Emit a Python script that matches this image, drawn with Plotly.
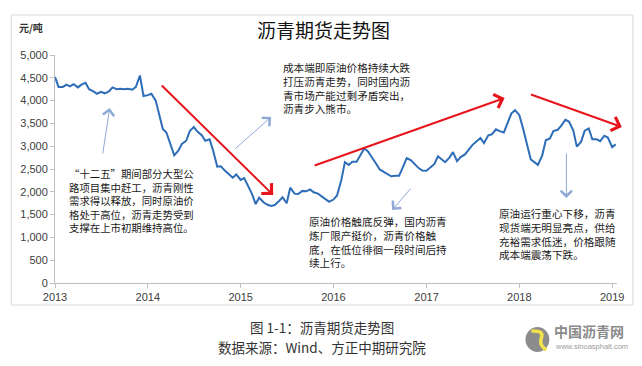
import pandas as pd
import plotly.graph_objects as go

# ---------------- data (semi-monthly readings, 元/吨) ----------------
start_date = "2013-01-01"
price = [
    4520, 4300, 4300, 4350, 4310, 4360, 4290, 4350, 4390, 4250,
    4200, 4150, 4190, 4160, 4200, 4290, 4250, 4260, 4250, 4260,
    4240, 4300, 4550, 4100, 4120, 4150, 4000, 3700, 3380, 3300,
    3000, 2800, 2900, 3050, 3120, 3330, 3420, 3320, 3240, 3120,
    3150, 2900, 2550, 2560, 2460, 2390, 2310, 2380, 2260, 2300,
    2120, 1950, 1730, 1870, 1770, 1720, 1690, 1710, 1800, 1880,
    1750, 2090, 1960, 1950, 2020, 2010, 2050, 1990, 1960, 1900,
    1840, 1780, 1830, 1920, 2260, 2650, 2590, 2660, 2660, 2800,
    2950, 2890, 2760, 2630, 2490, 2440, 2390, 2340, 2350, 2350,
    2550, 2740, 2690, 2610, 2520, 2465, 2460, 2530, 2610, 2780,
    2720, 2650, 2750, 2870, 2670, 2760, 2820, 2920, 3030, 3100,
    3180, 3070, 3240, 3260, 3370, 3330, 3300, 3500, 3720, 3790,
    3680, 3400, 2990, 2710, 2650, 2590, 2800, 3130, 3170, 3330,
    3360, 3450, 3580, 3540, 3350, 2990, 3100, 3340, 3390, 3150,
    3150, 3110, 3230, 3190, 2980, 3040,
]
dates = pd.date_range(start_date, periods=len(price), freq="SMS")

x_tick_vals = ["2013-01-01", "2014-01-01", "2015-01-01", "2016-01-01",
               "2017-01-01", "2018-01-01", "2019-01-01"]
x_tick_text = ["2013", "2014", "2015", "2016", "2017", "2018", "2019"]
y_tick_vals = [0, 500, 1000, 1500, 2000, 2500, 3000, 3500, 4000, 4500, 5000]

# trend arrows (tail date, tail value, head date, head value)
red_tail_x = ["2014-02-19", "2015-10-13", "2018-02-10"]
red_tail_y = [4364, 2566, 4145]
red_head_x = ["2015-05-09", "2017-11-04", "2019-02-08"]
red_head_y = [1930, 4057, 3421]

# pointer arrows
blue_tail_x = ["2013-07-07", "2014-12-05", "2016-11-05", "2018-07-05"]
blue_tail_y = [2807, 2917, 2105, 2873]
blue_head_x = ["2013-08-04", "2015-05-01", "2016-08-19", "2018-07-05"]
blue_head_y = [3838, 3640, 1601, 1864]

title_text = "沥青期货走势图"
unit_text = "元/吨"
note_top = "成本端即原油价格持续大跌<br>打压沥青走势，同时国内沥<br>青市场产能过剩矛盾突出，<br>沥青步入熊市。"
note_left = "“十二五”期间部分大型公<br>路项目集中赶工，沥青刚性<br>需求得以释放，同时原油价<br>格处于高位，沥青走势受到<br>支撑在上市初期维持高位。"
note_mid = "原油价格触底反弹，国内沥青<br>炼厂限产挺价，沥青价格触<br>底，在低位徘徊一段时间后持<br>续上行。"
note_right = "原油运行重心下移，沥青<br>现货端无明显亮点，供给<br>充裕需求低迷，价格跟随<br>成本端震荡下跌。"
caption1 = "图 1-1：沥青期货走势图"
caption2 = "数据来源：Wind、方正中期研究院"

# ---------------- layout helpers ----------------
# page has an 8px body margin, so the figure is drawn 8px right/down;
# positions below are given in screen pixels and converted.
OFF = 8
W, H = 642 - OFF, 366 - OFF
L, R, T, B = 52, 617, 55, 283   # plot area in screen pixels


def fx(px):
    return (px - L) / (R - L)


def fy(py):
    return (B - py) / (B - T)


CJK = "Noto Sans CJK SC"
LAT = "Liberation Sans"

fig = go.Figure()
fig.add_trace(go.Scatter(
    x=dates, y=price, mode="lines",
    line=dict(color="#2E6DB8", width=2),
    hoverinfo="skip", showlegend=False,
))

annotations = []
annotations.append(dict(text=title_text, x=fx(322), y=fy(29), xref="paper", yref="paper",
                        showarrow=False, xanchor="center", yanchor="middle",
                        font=dict(family=CJK, size=19, color="#111111")))
annotations.append(dict(text="<b>" + unit_text + "</b>", x=fx(14), y=fy(28), xref="paper", yref="paper",
                        showarrow=False, xanchor="left", yanchor="middle",
                        font=dict(family=CJK, size=10, color="#333333")))

for txt, xl, yt, fs in [(note_top, 279, 58, 10.6), (note_left, 64, 164, 10.4),
                        (note_mid, 305, 212, 10.6), (note_right, 496, 204, 10.6)]:
    annotations.append(dict(text=txt, x=fx(xl), y=fy(yt), xref="paper", yref="paper",
                            showarrow=False, xanchor="left", yanchor="top", align="left",
                            font=dict(family=CJK, size=fs, color="#1a1a1a")))

annotations.append(dict(text=caption1, x=fx(320), y=fy(327), xref="paper", yref="paper",
                        showarrow=False, xanchor="center", yanchor="middle",
                        font=dict(family=CJK, size=13.5, color="#333333")))
annotations.append(dict(text=caption2, x=fx(320), y=fy(347), xref="paper", yref="paper",
                        showarrow=False, xanchor="center", yanchor="middle",
                        font=dict(family=CJK, size=13.5, color="#333333")))

# watermark text
annotations.append(dict(text="<b>中国沥青网</b>", x=fx(552), y=fy(331), xref="paper", yref="paper",
                        showarrow=False, xanchor="left", yanchor="middle",
                        font=dict(family=CJK, size=14, color="#8a8a8a")))
annotations.append(dict(text="www.sinoasphalt.com", x=fx(553), y=fy(346), xref="paper", yref="paper",
                        showarrow=False, xanchor="left", yanchor="middle",
                        font=dict(family=LAT, size=7.5, color="#9a9a9a")))

# red trend arrows
for tx, ty, hx, hy in zip(red_tail_x, red_tail_y, red_head_x, red_head_y):
    annotations.append(dict(x=hx, y=hy, ax=tx, ay=ty, xref="x", yref="y", axref="x", ayref="y",
                            text="", showarrow=True, arrowhead=4, arrowsize=1.4,
                            arrowwidth=2, arrowcolor="#E8141C", standoff=0))
# blue pointer arrows
for tx, ty, hx, hy in zip(blue_tail_x, blue_tail_y, blue_head_x, blue_head_y):
    annotations.append(dict(x=hx, y=hy, ax=tx, ay=ty, xref="x", yref="y", axref="x", ayref="y",
                            text="", showarrow=True, arrowhead=4, arrowsize=2.2,
                            arrowwidth=1, arrowcolor="#8EA9D6", standoff=0))

shapes = [
    dict(type="rect", xref="paper", yref="paper", x0=fx(8), x1=fx(633), y0=fy(305), y1=fy(15),
         line=dict(color="#d9d9d9", width=1), fillcolor="rgba(0,0,0,0)", layer="below"),
    dict(type="circle", xref="paper", yref="paper", x0=fx(525), x1=fx(549), y0=fy(352), y1=fy(327),
         line=dict(color="#8c8c8c", width=0), fillcolor="#8c8c8c"),
    dict(type="path", xref="paper", yref="paper",
         path=(f"M {fx(531)},{fy(331)} Q {fx(544)},{fy(330)} {fx(541)},{fy(338)} "
               f"Q {fx(538)},{fy(345)} {fx(546)},{fy(350)}"),
         line=dict(color="#F2E24A", width=3.5)),
]

fig.update_layout(
    width=W, height=H, autosize=False,
    margin=dict(l=L - OFF, r=(W + OFF) - R, t=T - OFF, b=(H + OFF) - B, pad=0),
    paper_bgcolor="white", plot_bgcolor="white",
    showlegend=False,
    annotations=annotations, shapes=shapes,
    xaxis=dict(type="date", range=["2013-01-01", "2019-01-20"],
               tickvals=x_tick_vals, ticktext=x_tick_text,
               showline=True, linecolor="#bfbfbf", linewidth=1,
               ticks="outside", ticklen=4, tickcolor="#bfbfbf",
               showgrid=False, zeroline=False,
               tickfont=dict(family=LAT, size=11, color="#404040")),
    yaxis=dict(range=[0, 5000], tickvals=y_tick_vals, tickformat=",",
               showline=True, linecolor="#bfbfbf", linewidth=1,
               ticks="outside", ticklen=4, tickcolor="#bfbfbf",
               showgrid=False, zeroline=False,
               tickfont=dict(family=LAT, size=11, color="#404040")),
)

fig.write_html("out.html")
